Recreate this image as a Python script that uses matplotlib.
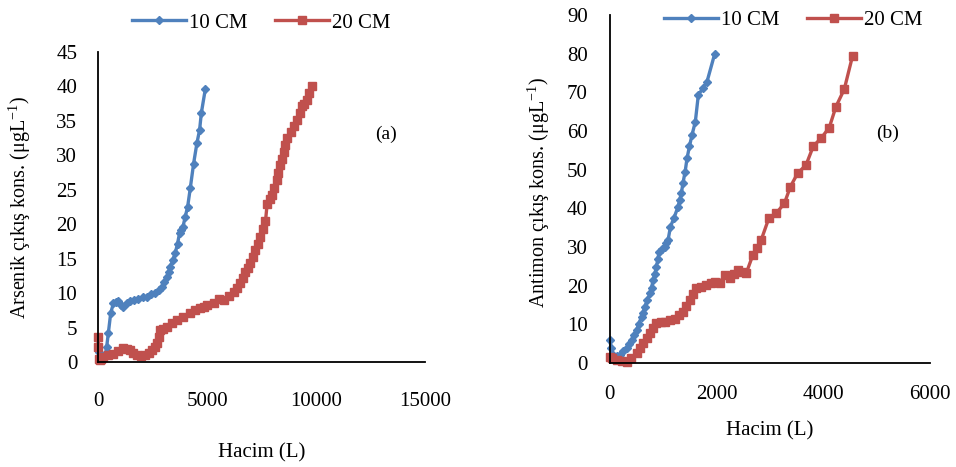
import numpy as np
import matplotlib.pyplot as plt

plt.rcParams['font.family'] = ['Liberation Serif', 'DejaVu Serif']
plt.rcParams['mathtext.fontset'] = 'custom'
plt.rcParams['mathtext.rm'] = 'Liberation Serif'

BLUE = '#4f81bd'
RED = '#c0504d'

# (a) arsenic
as10_x = [0, 40, 120, 200, 322, 398, 475, 583, 705, 820, 934, 1050, 1166, 1320, 1472,
          1660, 1855, 2050, 2240, 2430, 2622, 2780, 2930, 3050, 3160, 3240, 3312, 3430,
          3542, 3650, 3740, 3820, 3896, 4002, 4110, 4232, 4385, 4539, 4661, 4738, 4922]
as10_y = [3.5, 1.5, 0.8, 0.5, 0.8, 2.2, 4.2, 7.1, 8.5, 8.7, 8.8, 8.3, 8.0, 8.5, 8.8,
          9.0, 9.2, 9.4, 9.5, 9.8, 10.0, 10.4, 10.9, 11.6, 12.4, 13.1, 13.8, 14.8,
          15.8, 17.2, 18.7, 19.2, 19.6, 21.1, 22.5, 25.2, 28.8, 31.8, 33.7, 36.1, 39.6]
as20_x = [0, 20, 40, 80, 150, 245, 450, 705, 930, 1166, 1320, 1472, 1620, 1780, 1970,
          2162, 2320, 2470, 2600, 2700, 2780, 2852, 3000, 3160, 3390, 3620, 3900, 4232,
          4460, 4692, 4845, 5000, 5304, 5534, 5764, 6000, 6224, 6380, 6532, 6650, 6762,
          6880, 6992, 7110, 7222, 7320, 7422, 7550, 7682, 7759, 7870, 7990, 8090, 8188,
          8260, 8341, 8430, 8525, 8600, 8680, 8864, 9000, 9140, 9260, 9370, 9470, 9568,
          9700, 9830]
as20_y = [3.7, 2.2, 0.5, 0.3, 0.4, 0.8, 1.0, 1.2, 1.6, 2.0, 1.9, 1.7, 1.3, 1.0, 0.9,
          1.0, 1.3, 1.7, 2.2, 2.7, 3.6, 4.6, 4.8, 5.1, 5.6, 6.1, 6.6, 7.1,
          7.5, 7.8, 8.0, 8.3, 8.5, 9.2, 9.0, 9.6, 10.2, 10.8, 11.4, 12.2, 13.1,
          13.7, 14.3, 15.3, 16.3, 17.2, 18.2, 19.3, 20.4, 23.0, 23.6, 24.2, 25.3, 26.4,
          27.5, 28.6, 29.5, 30.5, 31.5, 32.5, 33.4, 34.2, 35.1, 36.1, 37.1, 37.5, 38.0,
          39.0, 40.0]

# (b) antimony
sb10_x = [0, 20, 62, 125, 187, 250, 312, 360, 405, 450, 499, 545, 592, 620, 654, 700,
          748, 780, 810, 840, 872, 900, 922, 975, 1028, 1060, 1090, 1134, 1200, 1277,
          1308, 1340, 1370, 1410, 1445, 1490, 1539, 1601, 1657, 1740, 1819, 1963]
sb10_y = [6.0, 4.0, 2.1, 1.8, 2.1, 3.0, 3.8, 4.8, 5.9, 7.2, 8.5, 10.2, 12.0, 13.0, 14.6, 16.2,
          18.0, 19.5, 21.5, 23.0, 24.9, 27.0, 28.8, 29.5, 30.1, 31.0, 31.8, 35.2, 37.5, 40.4,
          42.2, 44.0, 46.6, 49.5, 52.9, 56.0, 59.0, 62.4, 69.3, 71.0, 72.7, 79.9]
sb20_x = [0, 40, 125, 220, 312, 400, 499, 560, 623, 690, 748, 810, 872, 950, 1028,
          1120, 1215, 1290, 1370, 1430, 1495, 1560, 1620, 1710, 1807, 1900, 1963, 2056,
          2150, 2243, 2320, 2398, 2480, 2555, 2678, 2760, 2835, 2978, 3116, 3271, 3383,
          3520, 3676, 3813, 3957, 4112, 4237, 4393, 4548]
sb20_y = [1.6, 1.2, 0.8, 0.5, 0.3, 1.2, 2.5, 3.8, 5.1, 6.4, 7.7, 9.0, 10.3, 10.5, 10.7,
          11.1, 11.5, 12.4, 13.3, 14.8, 16.3, 17.8, 19.3, 19.7, 20.2, 20.6, 21.0, 20.6,
          22.8, 21.9, 23.0, 24.0, 23.6, 23.2, 27.9, 29.8, 31.8, 37.4, 38.7, 41.3, 45.6,
          49.1, 51.2, 56.1, 58.1, 60.9, 66.3, 70.8, 79.4]

FS = 15

fig = plt.figure(figsize=(9.56, 4.67), dpi=100)
ax1 = fig.add_axes([0.1025, 0.2248, 0.3421, 0.6639])
ax2 = fig.add_axes([0.638, 0.2227, 0.3348, 0.7452])


def draw_panel(ax, x10, y10, x20, y20, xmax, xstep, ymax, ystep, ylabel, tag, tagpos, xpad, ypad):
    ax.plot(x10, y10, '-D', color=BLUE, lw=2.4, ms=4.5, label='10 CM', clip_on=False)
    ax.plot(x20, y20, '-s', color=RED, lw=2.4, ms=5.5, label='20 CM', clip_on=False)
    ax.set_xlim(0, xmax)
    ax.set_ylim(0, ymax)
    ax.set_xticks(np.arange(0, xmax + 1, xstep))
    ax.set_yticks(np.arange(0, ymax + 1, ystep))
    for s in ['top', 'right']:
        ax.spines[s].set_visible(False)
    for s in ['left', 'bottom']:
        ax.spines[s].set_linewidth(1.3)
    ax.tick_params(axis='x', length=0, pad=xpad, labelsize=FS)
    ax.tick_params(axis='y', length=0, pad=ypad, labelsize=FS)
    ax.set_ylabel(ylabel, fontsize=14.5)
    ax.set_xlabel('Hacim (L)', fontsize=FS)
    ax.text(tagpos[0], tagpos[1], tag, transform=ax.transAxes, fontsize=FS - 1,
            ha='center', va='center')


draw_panel(ax1, as10_x, as10_y, as20_x, as20_y, 15000, 5000, 45, 5,
           'Arsenik çıkış kons. (μgL$^{-1}$)', '(a)', (0.88, 0.735), 21.5, 15)
draw_panel(ax2, sb10_x, sb10_y, sb20_x, sb20_y, 6000, 2000, 90, 10,
           'Antimon çıkış kons. (μgL$^{-1}$)', '(b)', (0.866, 0.661), 16, 16)

ax1.xaxis.set_label_coords(0.5, -0.262)
ax2.xaxis.set_label_coords(0.5, -0.168)
ax1.yaxis.set_label_coords(-0.20, 0.5)
ax2.yaxis.set_label_coords(-0.18, 0.49)

for ax, cx, cy in [(ax1, 0.273, 0.951), (ax2, 0.8295, 0.957)]:
    ax.legend(loc='center', bbox_to_anchor=(cx, cy), bbox_transform=fig.transFigure,
              ncol=2, frameon=False, fontsize=FS, handlelength=2.6,
              handletextpad=0.15, columnspacing=1.3, borderaxespad=0)

fig.savefig('out.png', dpi=100)
